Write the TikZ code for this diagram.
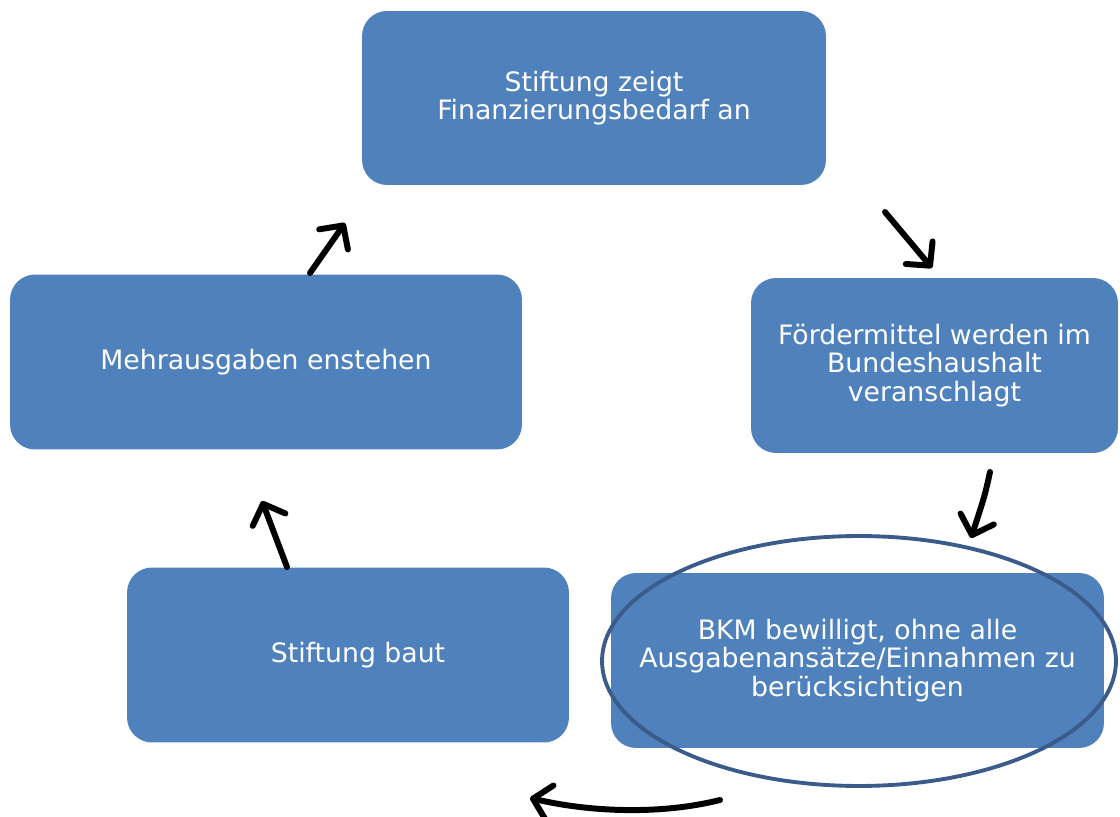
\documentclass[tikz,border=0pt]{standalone}
\usepackage{fontspec}
\setmainfont{DejaVu Sans}
\usetikzlibrary{arrows.meta}
\usetikzlibrary{shapes.geometric}
\definecolor{bleu}{RGB}{79,129,189}
\definecolor{bleufonce}{RGB}{59,92,138}
\begin{document}
\begin{tikzpicture}[x=0.02cm,y=-0.02cm]
%styles des noeuds
\tikzstyle{bloc}=[rectangle,rounded corners=0.5cm,fill=bleu,text=white,
align=center,inner sep=0pt,minimum height=3.5cm,font=\fontsize{15.2}{16.2}\selectfont]
\tikzstyle{ovale}=[ellipse,draw=bleufonce,line width=2.2pt,inner sep=0pt]
%style des fleches
\tikzstyle{suite}=[-{Straight Barb[length=0.34cm,width=0.7cm,round]},
line width=3.4pt,line cap=round]
\useasboundingbox (0,0) rectangle (1120,817);
%placement des noeuds
\node[bloc,minimum width=9.28cm,minimum height=3.48cm] (besoin) at (594,98)
  {Stiftung zeigt\\Finanzierungsbedarf an};
\node[bloc,minimum width=7.34cm] (foerder) at (934.5,365.5)
  {Fördermittel werden im\\Bundeshaushalt\\veranschlagt};
\node[bloc,minimum width=9.86cm] (bkm) at (857.5,660.5)
  {BKM bewilligt, ohne alle\\Ausgabenansätze/Einnahmen zu\\berücksichtigen};
\node[bloc,minimum width=8.84cm] (baut) at (348,655) {\hspace{0.4cm}Stiftung baut};
\node[bloc,minimum width=10.24cm] (mehr) at (266,362) {Mehrausgaben enstehen};
\node[ovale,minimum width=10.28cm,minimum height=5cm] (oval) at (859,661) {};
%extremites des fleches
\coordinate (d1) at (885,212); \coordinate (f1) at (932,268);
\coordinate (d2) at (990,472); \coordinate (f2) at (971,538);
\coordinate (d3) at (720,800); \coordinate (f3) at (530,798);
\coordinate (d4) at (287,567); \coordinate (f4) at (262,501);
\coordinate (d5) at (310,273); \coordinate (f5) at (345,223);
%placement des fleches
\draw[suite] (d1) -- (f1);
\draw[suite] (d2) .. controls (985,495) .. (f2);
\draw[suite] (d3) .. controls (660,815) and (590,812) .. (f3);
\draw[suite] (d4) -- (f4);
\draw[suite] (d5) -- (f5);
\end{tikzpicture}
\end{document}
